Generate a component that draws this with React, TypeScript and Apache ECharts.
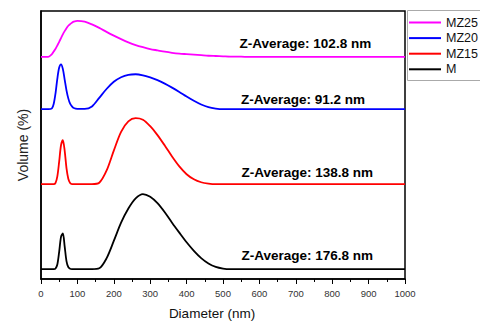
import React, { useEffect, useRef } from "react";
import * as echarts from "echarts";

// Diameter sampling (nm)
const diameters = [
  0, 10, 20, 30, 35, 40, 45, 50, 55, 60, 65, 70, 75, 80, 85, 90,
  100, 120, 140, 160, 180, 200, 220, 240, 260, 280, 300, 320, 340, 360, 380, 400,
  420, 440, 460, 480, 500, 520, 540, 560, 580, 600,
  650, 700, 750, 800, 850, 900, 950, 1000,
];

// Volume values (arbitrary volume units)
const volM = [
  0, 0, 0, 0, 0, 0.2, 1.8, 6.5, 12, 13.3, 8.5, 3, 0.7, 0.1, 0, 0,
  0, 0, 0, 0.3, 4, 10.5, 17.3, 22.6, 26.4, 28, 27, 24.6, 21.2, 17.3, 13.6, 10,
  6.8, 4.1, 2.1, 0.8, 0.2, 0, 0, 0, 0, 0,
  0, 0, 0, 0, 0, 0, 0, 0,
];
const volMZ15 = [
  0, 0, 0, 0, 0, 0.5, 3, 8.5, 14.5, 16.4, 12.5, 6, 2, 0.4, 0, 0,
  0, 0, 0, 0.5, 5, 12.5, 19.5, 23.4, 24.6, 24, 21.6, 18.3, 14.4, 10.3, 6.6, 3.7,
  1.8, 0.7, 0.2, 0, 0, 0, 0, 0, 0, 0,
  0, 0, 0, 0, 0, 0, 0, 0,
];
const volMZ20 = [
  0, 0, 0, 0.3, 2, 6, 11.5, 15.5, 16.7, 15, 11, 7, 4, 2, 1, 0.4,
  0.1, 0.1, 1, 4.2, 7.5, 10.2, 11.9, 12.8, 13, 12.6, 11.8, 10.8, 9.5, 8, 6.4, 4.7,
  3.1, 1.7, 0.7, 0.2, 0, 0, 0, 0, 0, 0,
  0, 0, 0, 0, 0, 0, 0, 0,
];
const volMZ25 = [
  0, 0, 0, 1, 2, 3, 4.3, 5.6, 7, 8.4, 9.6, 10.7, 11.6, 12.2, 12.7, 13.1,
  13.4, 13.1, 12.1, 10.8, 9.3, 7.9, 6.6, 5.4, 4.4, 3.6, 2.9, 2.4, 1.9, 1.5, 1.2, 1,
  0.8, 0.6, 0.4, 0.3, 0.2, 0.1, 0.1, 0, 0, 0,
  0, 0, 0, 0, 0, 0, 0, 0,
];

const seriesNames = ["MZ25", "MZ20", "MZ15", "M"];
const seriesValues = [volMZ25, volMZ20, volMZ15, volM];
const seriesOffsets = [82.9, 63.4, 35.4, 3.7];
const zAverages = ["102.8", "91.2", "138.8", "176.8"];
const colors = ["#FF00FF", "#0000FF", "#FF0000", "#000000"];

// label anchor (x in nm, y above baseline)
const labelAnchors: [number, number][] = [
  [907, 4.8],
  [890, 3.4],
  [912, 4.5],
  [912, 4.9],
];

const FONT = "'Liberation Sans', Arial, sans-serif";

export default function App() {
  const ref = useRef<HTMLDivElement>(null);
  useEffect(() => {
    if (!ref.current) return;
    const chart = echarts.init(ref.current, undefined, { renderer: "svg" });
    const series = seriesNames.map((name, i) => ({
      name,
      type: "line",
      symbol: "none",
      smooth: 0.3,
      lineStyle: { color: colors[i], width: 1.8 },
      itemStyle: { color: colors[i] },
      data: diameters.map((d, k) => [d, seriesValues[i][k] + seriesOffsets[i]]),
      markPoint: {
        silent: true,
        symbol: "circle",
        symbolSize: 0,
        data: [
          {
            coord: [labelAnchors[i][0], seriesOffsets[i] + labelAnchors[i][1]],
            label: {
              show: true,
              position: "left",
              distance: 0,
              formatter: `Z-Average: ${zAverages[i]} nm`,
              fontFamily: FONT,
              fontWeight: "bold",
              fontSize: 13.5,
              color: "#000",
            },
          },
        ],
      },
    }));
    chart.setOption({
      animation: false,
      backgroundColor: "#fff",
      grid: {
        left: 41,
        right: 75,
        top: 11,
        bottom: 46,
        show: true,
        borderColor: "#000",
        borderWidth: 1.5,
      },
      graphic: [
        {
          type: "rect",
          silent: true,
          shape: { x: 407.5, y: 10.5, width: 120, height: 70 },
          style: { fill: "none", stroke: "#aaa", lineWidth: 1 },
        },
      ],
      legend: {
        data: seriesNames,
        orient: "vertical",
        left: 408,
        top: 16,
        itemWidth: 32,
        itemHeight: 10,
        itemGap: 2.6,
        padding: 0,
        itemStyle: { opacity: 0 },
        textStyle: { fontFamily: FONT, fontSize: 12.5, color: "#111" },
      },
      xAxis: {
        type: "value",
        min: 0,
        max: 1000,
        interval: 100,
        name: "Diameter (nm)",
        nameLocation: "middle",
        nameGap: 27,
        nameTextStyle: {
          fontFamily: FONT,
          fontSize: 13.5,
          color: "#111",
          padding: [0, 22, 0, 0],
        },
        axisLine: { lineStyle: { color: "#000", width: 1.5 } },
        axisTick: { inside: false, length: 5, lineStyle: { color: "#000", width: 1 } },
        minorTick: { show: true, splitNumber: 2, length: 3, lineStyle: { color: "#000", width: 1 } },
        axisLabel: {
          fontFamily: FONT,
          fontSize: 9.5,
          color: "#333",
          margin: 9,
          formatter: (v: number) => String(v),
        },
        splitLine: { show: false },
        minorSplitLine: { show: false },
      },
      yAxis: {
        type: "value",
        min: 0,
        max: 100,
        name: "Volume (%)",
        nameLocation: "middle",
        nameGap: 11,
        nameTextStyle: { fontFamily: FONT, fontSize: 14, color: "#222" },
        axisLine: { show: true, lineStyle: { color: "#000", width: 1.5 } },
        axisTick: { show: false },
        axisLabel: { show: false },
        splitLine: { show: false },
      },
      series,
    });
    return () => chart.dispose();
  }, []);
  return (
    <div
      ref={ref}
      style={{ position: "fixed", left: 0, top: 0, width: 480, height: 325 }}
    />
  );
}
